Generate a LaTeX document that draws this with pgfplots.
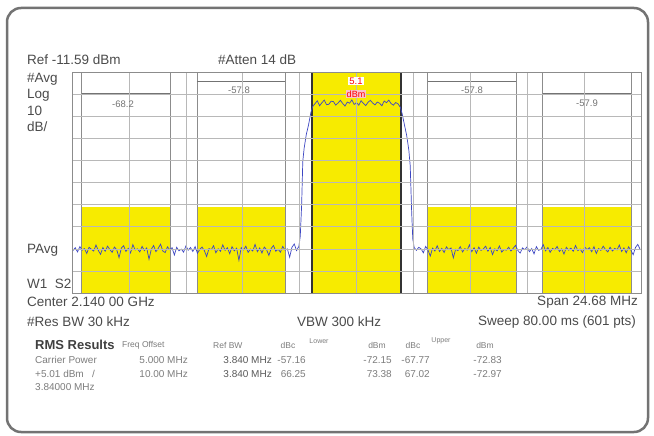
\documentclass[border=0pt]{standalone}
\usepackage{pgfplots}
\pgfplotsset{compat=1.18}
\usepackage{fontspec}
\setmainfont{Liberation Sans}
\definecolor{scyellow}{RGB}{247,235,0}
\definecolor{trace}{RGB}{60,70,195}
\definecolor{lbl}{RGB}{75,75,75}
\definecolor{tbl}{RGB}{125,125,125}
\begin{document}
\begin{tikzpicture}
\begin{scope}[x=1pt,y=-1pt]
\path[use as bounding box, fill=white] (0,0) rectangle (654,436);
\draw[rounded corners=14pt, line width=2.5pt, black!55] (7,8) rectangle (648,432);
\end{scope}
\begin{axis}[at={(72pt,-293pt)}, anchor=south west, scale only axis,
  width=569pt, height=221pt,
  xmin=-12.34, xmax=12.34, ymin=-111.59, ymax=-11.59,
  xtick={-9.872,-7.404,-4.936,-2.468,0,2.468,4.936,7.404,9.872},
  ytick={-101.59,-91.59,-81.59,-71.59,-61.59,-51.59,-41.59,-31.59,-21.59},
  xticklabels={}, yticklabels={}, major tick length=0pt,
  grid=major, grid style={black!28, line width=0.5pt},
  axis line style={black!45, line width=0.8pt},
  axis on top, clip=true]
% yellow offset channels
\addplot[fill=scyellow, draw=none, forget plot] coordinates {(-11.92,-111.59) (-8.08,-111.59) (-8.08,-72.7) (-11.92,-72.7)} -- cycle;
\addplot[fill=scyellow, draw=none, forget plot] coordinates {(-6.92,-111.59) (-3.08,-111.59) (-3.08,-72.7) (-6.92,-72.7)} -- cycle;
\addplot[fill=scyellow, draw=none, forget plot] coordinates {(3.08,-111.59) (6.92,-111.59) (6.92,-72.7) (3.08,-72.7)} -- cycle;
\addplot[fill=scyellow, draw=none, forget plot] coordinates {(8.08,-111.59) (11.92,-111.59) (11.92,-72.7) (8.08,-72.7)} -- cycle;
% carrier channel
\addplot[fill=scyellow, draw=black!80, line width=1.6pt, forget plot] coordinates {(-1.92,-111.59) (-1.92,-11.59) (1.92,-11.59) (1.92,-111.59)};
% channel boundary lines
\addplot[black!45, line width=0.8pt, forget plot] coordinates {(-11.92,-111.59) (-11.92,-11.59)};
\addplot[black!45, line width=0.8pt, forget plot] coordinates {(-8.08,-111.59) (-8.08,-11.59)};
\addplot[black!45, line width=0.8pt, forget plot] coordinates {(-6.92,-111.59) (-6.92,-11.59)};
\addplot[black!45, line width=0.8pt, forget plot] coordinates {(-3.08,-111.59) (-3.08,-11.59)};
\addplot[black!45, line width=0.8pt, forget plot] coordinates {(3.08,-111.59) (3.08,-11.59)};
\addplot[black!45, line width=0.8pt, forget plot] coordinates {(6.92,-111.59) (6.92,-11.59)};
\addplot[black!45, line width=0.8pt, forget plot] coordinates {(8.08,-111.59) (8.08,-11.59)};
\addplot[black!45, line width=0.8pt, forget plot] coordinates {(11.92,-111.59) (11.92,-11.59)};
% measurement bars
\addplot[black!55, line width=0.8pt, forget plot] coordinates {(-11.92,-21.09) (-8.08,-21.09)};
\addplot[black!55, line width=0.8pt, forget plot] coordinates {(-6.92,-15.66) (-3.08,-15.66)};
\addplot[black!55, line width=0.8pt, forget plot] coordinates {(3.08,-15.66) (6.92,-15.66)};
\addplot[black!55, line width=0.8pt, forget plot] coordinates {(8.08,-21.09) (11.92,-21.09)};
% trace
\addplot[trace, line width=0.7pt, forget plot] coordinates {
(-12.34,-92.0)
(-12.3,-92.4) (-12.2,-91.1) (-12.1,-93.0) (-12.0,-90.6) (-11.9,-92.2) (-11.8,-91.5) (-11.7,-93.7) (-11.6,-90.9) (-11.5,-91.8) (-11.4,-92.6)
(-11.3,-89.9) (-11.2,-92.3) (-11.1,-94.1) (-11.0,-91.0) (-10.9,-92.7) (-10.8,-90.4) (-10.7,-91.9) (-10.6,-93.2) (-10.5,-90.8) (-10.4,-92.0)
(-10.3,-95.6) (-10.2,-91.3) (-10.1,-90.2) (-10.0,-92.8) (-9.9,-91.4) (-9.8,-93.5) (-9.7,-89.7) (-9.6,-92.1) (-9.5,-91.6) (-9.4,-93.0)
(-9.3,-90.5) (-9.2,-92.4) (-9.1,-91.2) (-9.0,-96.3) (-8.9,-91.8) (-8.8,-90.1) (-8.7,-92.9) (-8.6,-91.4) (-8.5,-89.5) (-8.4,-92.6)
(-8.3,-93.3) (-8.2,-90.7) (-8.1,-92.0) (-8.0,-91.1) (-7.9,-94.4) (-7.8,-90.9) (-7.7,-92.5) (-7.6,-91.7) (-7.5,-93.1) (-7.4,-90.3)
(-7.3,-92.2) (-7.2,-91.0) (-7.1,-92.8) (-7.0,-90.6) (-6.9,-93.6) (-6.8,-91.9) (-6.7,-90.8) (-6.6,-92.4) (-6.5,-95.1) (-6.4,-91.5)
(-6.3,-92.0) (-6.2,-90.2) (-6.1,-93.4) (-6.0,-91.6) (-5.9,-92.7) (-5.8,-89.8) (-5.7,-92.3) (-5.6,-91.1) (-5.5,-93.8) (-5.4,-90.6)
(-5.3,-92.5) (-5.2,-91.3) (-5.1,-96.8) (-5.0,-91.0) (-4.9,-92.1) (-4.8,-90.4) (-4.7,-93.2) (-4.6,-91.7) (-4.5,-92.6) (-4.4,-89.6)
(-4.3,-92.9) (-4.2,-91.2) (-4.1,-93.5) (-4.0,-90.8) (-3.9,-92.0) (-3.8,-94.6) (-3.7,-91.4) (-3.6,-90.1) (-3.5,-92.7) (-3.4,-91.8)
(-3.3,-93.1) (-3.2,-90.5) (-3.1,-92.2) (-3.0,-91.6) (-2.9,-95.4) (-2.8,-90.9) (-2.7,-89.4) (-2.6,-92.4)
(-2.5,-90.5) (-2.44,-86) (-2.38,-72) (-2.33,-52) (-2.27,-46) (-2.18,-40) (-2.08,-35.5) (-1.98,-30) (-1.9,-27.2)
(-1.8,-25.9) (-1.7,-24.6) (-1.6,-26.9) (-1.5,-25.5) (-1.4,-24.3) (-1.3,-26.4) (-1.2,-26.2) (-1.1,-24.8) (-1.0,-25.0) (-0.9,-26.6)
(-0.8,-25.6) (-0.7,-24.4) (-0.6,-25.8) (-0.5,-27.0) (-0.4,-25.2) (-0.3,-25.7) (-0.2,-24.2) (-0.1,-26.3) (0.0,-25.4) (0.1,-26.6)
(0.2,-24.6) (0.3,-25.8) (0.4,-26.8) (0.5,-25.3) (0.6,-24.4) (0.7,-25.6) (0.8,-26.5) (0.9,-25.2) (1.0,-25.7) (1.1,-26.9)
(1.2,-24.7) (1.3,-25.5) (1.4,-24.3) (1.5,-25.9) (1.6,-26.6) (1.7,-25.4)
(1.8,-26.0) (1.9,-27.5) (1.98,-30.5) (2.08,-35.5) (2.18,-40.5) (2.27,-47) (2.33,-54) (2.39,-74) (2.44,-87) (2.5,-91.0)
(2.6,-92.3) (2.7,-90.9) (2.8,-91.6) (2.9,-93.4) (3.0,-90.5) (3.1,-92.1) (3.2,-94.9) (3.3,-91.3) (3.4,-92.6) (3.5,-90.2)
(3.6,-92.8) (3.7,-91.4) (3.8,-93.3) (3.9,-90.7) (4.0,-92.0) (4.1,-91.2) (4.2,-95.7) (4.3,-91.8) (4.4,-92.4) (4.5,-90.6)
(4.6,-93.0) (4.7,-91.5) (4.8,-92.2) (4.9,-89.8) (5.0,-92.9) (5.1,-91.1) (5.2,-93.6) (5.3,-90.8) (5.4,-92.3) (5.5,-91.7)
(5.6,-90.4) (5.7,-92.7) (5.8,-91.0) (5.9,-94.2) (6.0,-91.6) (6.1,-92.5) (6.2,-90.3) (6.3,-93.1) (6.4,-91.9) (6.5,-92.2)
(6.6,-90.9) (6.7,-92.6) (6.8,-91.3) (6.9,-90.0) (7.0,-92.4) (7.1,-93.5) (7.2,-91.2) (7.3,-92.0) (7.4,-90.7) (7.5,-92.9)
(7.6,-91.5) (7.7,-93.9) (7.8,-90.6) (7.9,-92.3) (8.0,-91.8) (8.1,-89.7) (8.2,-92.5) (8.3,-91.0) (8.4,-93.2) (8.5,-91.4)
(8.6,-92.1) (8.7,-90.5) (8.8,-92.8) (8.9,-91.6) (9.0,-94.0) (9.1,-90.9) (9.2,-92.2) (9.3,-91.3) (9.4,-92.7) (9.5,-90.1)
(9.6,-92.4) (9.7,-91.7) (9.8,-93.3) (9.9,-90.8) (10.0,-92.0) (10.1,-91.1) (10.2,-92.9) (10.3,-90.6) (10.4,-93.7) (10.5,-91.5)
(10.6,-92.3) (10.7,-90.4) (10.8,-91.9) (10.9,-93.0) (11.0,-90.9) (11.1,-92.6) (11.2,-91.4) (11.3,-92.1) (11.4,-89.9) (11.5,-92.8)
(11.6,-91.2) (11.7,-93.4) (11.8,-90.7) (11.9,-92.2) (12.0,-94.3) (12.1,-91.0) (12.2,-89.6) (12.3,-91.8) (12.34,-92.0)
};
\end{axis}
\begin{scope}[x=1pt,y=-1pt]
\tikzset{big/.style={anchor=west, inner sep=0pt, text=lbl, font=\fontsize{13.5}{14}\selectfont},
         mid/.style={inner sep=0pt, text=black!55, font=\fontsize{9.5}{10}\selectfont},
         row/.style={inner sep=0pt, text=tbl, font=\fontsize{10}{11}\selectfont},
         hdr/.style={inner sep=0pt, text=tbl, font=\fontsize{8.5}{9}\selectfont}}
\node[big] at (27,60) {Ref -11.59 dBm};
\node[big] at (218,60) {\#Atten 14 dB};
\node[big] at (27,79) {\#Avg};
\node[big] at (27,95) {Log};
\node[big] at (27,111) {10};
\node[big] at (27,127) {dB/};
\node[big] at (27,250) {PAvg};
\node[big] at (27,284) {W1\ \ S2};
\node[big] at (27,302) {Center 2.140 00 GHz};
\node[big, anchor=east] at (638,302) {Span 24.68 MHz};
\node[big] at (27,322) {\#Res BW 30 kHz};
\node[big] at (297,322) {VBW 300 kHz};
\node[big, anchor=east] at (636,322) {Sweep 80.00 ms (601 pts)};
% channel readouts
\node[mid] at (123,104) {-68.2};
\node[mid] at (239,90) {-57.8};
\node[mid] at (472,90) {-57.8};
\node[mid] at (587,103) {-57.9};
\node[fill=white, inner sep=1pt, text=red, font=\fontsize{9.5}{10}\selectfont] at (356,81) {5.1};
\node[fill={rgb,255:red,250;green,195;blue,205}, inner sep=1pt, text=red, font=\fontsize{9}{10}\selectfont] at (356,94) {dBm};
% results table
\node[anchor=west, inner sep=0pt, text=black!75, font=\bfseries\fontsize{13}{14}\selectfont] at (35,345) {RMS Results};
\node[hdr, anchor=west] at (122,345) {Freq Offset};
\node[hdr, anchor=west] at (213,345) {Ref BW};
\node[hdr] at (288,345) {dBc};
\node[hdr, font=\fontsize{7}{8}\selectfont] at (319,341) {Lower};
\node[hdr] at (377,345) {dBm};
\node[hdr] at (413,345) {dBc};
\node[hdr, font=\fontsize{7}{8}\selectfont] at (441,341) {Upper};
\node[hdr] at (485,345) {dBm};
\node[row, anchor=west] at (35,360) {Carrier Power};
\node[row, anchor=east] at (188,360) {5.000 MHz};
\node[row, anchor=east, text=black!65] at (272,360) {3.840 MHz};
\node[row, anchor=east] at (306,360) {-57.16};
\node[row, anchor=east] at (392,360) {-72.15};
\node[row, anchor=east] at (430,360) {-67.77};
\node[row, anchor=east] at (502,360) {-72.83};
\node[row, anchor=west] at (35,374) {+5.01 dBm\ \ \ /};
\node[row, anchor=east] at (188,374) {10.00 MHz};
\node[row, anchor=east, text=black!65] at (272,374) {3.840 MHz};
\node[row, anchor=east] at (306,374) {66.25};
\node[row, anchor=east] at (392,374) {73.38};
\node[row, anchor=east] at (430,374) {67.02};
\node[row, anchor=east] at (502,374) {-72.97};
\node[row, anchor=west] at (35,387) {3.84000 MHz};
\end{scope}
\end{tikzpicture}
\end{document}
